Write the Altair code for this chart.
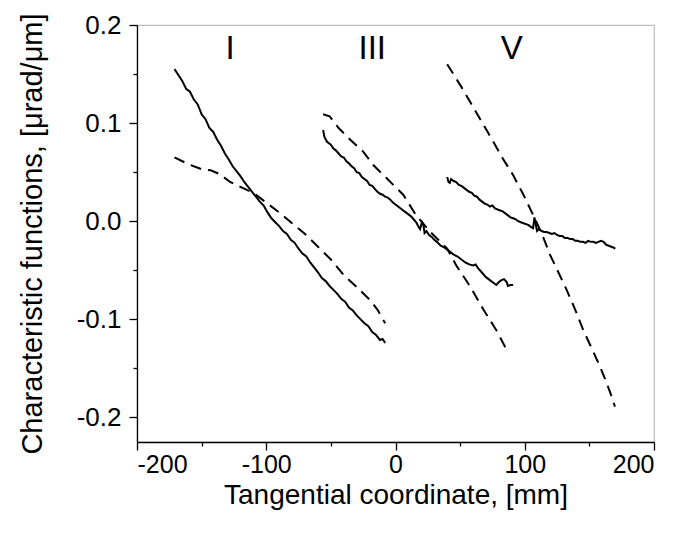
import altair as alt
import pandas as pd

# ---- data ----
I_solid_x = [-171, -168, -165, -162, -159, -156, -153, -150, -147, -144, -141, -138, -135, -132, -129,
             -126, -123, -120, -117, -114, -111, -108, -105, -102, -99, -96, -93, -90, -87, -84, -81,
             -78, -75, -72, -69, -66, -63, -60, -57, -54, -51, -48, -45, -42, -39, -36, -33, -30,
             -27, -24, -21, -18, -15, -12, -10, -8]
I_solid_y = [0.155, 0.149, 0.143, 0.135, 0.132, 0.124, 0.119, 0.109, 0.104, 0.095, 0.091, 0.083, 0.077,
             0.069, 0.063, 0.056, 0.051, 0.046, 0.040, 0.035, 0.030, 0.025, 0.020, 0.016, 0.009, 0.003,
             -0.001, -0.005, -0.010, -0.013, -0.019, -0.022, -0.028, -0.033, -0.036, -0.042, -0.047,
             -0.052, -0.058, -0.061, -0.066, -0.070, -0.074, -0.079, -0.082, -0.088, -0.091, -0.096,
             -0.100, -0.104, -0.107, -0.113, -0.116, -0.121, -0.120, -0.124]

I_dash_x = [-171, -160, -150, -143, -136, -128, -120, -110, -100, -90, -80, -70, -60, -50, -40, -30, -20, -14, -8]
I_dash_y = [0.065, 0.058, 0.053, 0.052, 0.048, 0.040, 0.035, 0.029, 0.019, 0.009, -0.002, -0.013,
            -0.026, -0.039, -0.055, -0.067, -0.080, -0.090, -0.104]

III_solid_x = [-56, -55, -53, -50, -48, -46, -44, -42, -40, -38, -36, -34, -32, -30, -28, -26, -24, -22,
               -20, -18, -16, -14, -12, -10, -8, -6, -4, -2, 0, 2, 4, 6, 8, 10, 12, 14, 16, 18, 19,
               20.5, 21.5, 22.5, 24, 26, 28, 30, 32, 35, 38, 40, 42, 45, 48, 51, 54, 57, 60, 62, 64,
               66, 68, 70, 73, 76, 78, 80, 82, 84, 86, 87, 89, 91]
III_solid_y = [0.093, 0.086, 0.081, 0.078, 0.074, 0.072, 0.069, 0.066, 0.065, 0.061, 0.059, 0.056, 0.054,
               0.050, 0.049, 0.045, 0.043, 0.041, 0.037, 0.036, 0.033, 0.030, 0.028, 0.027, 0.025, 0.024,
               0.022, 0.019, 0.017, 0.015, 0.013, 0.011, 0.009, 0.007, 0.005, 0.002, -0.001, -0.006,
               -0.008, -0.001, -0.003, -0.012, -0.010, -0.014, -0.016, -0.019, -0.021, -0.025, -0.027,
               -0.029, -0.031, -0.034, -0.036, -0.039, -0.042, -0.044, -0.045, -0.044, -0.048, -0.051,
               -0.054, -0.057, -0.060, -0.063, -0.065, -0.062, -0.060, -0.059, -0.062, -0.066, -0.065,
               -0.065]

III_dash_x = [-56, -51, -44, -35, -25, -17, -7, 6, 16, 27, 40, 47, 58, 68, 78, 86]
III_dash_y = [0.109, 0.107, 0.095, 0.083, 0.071, 0.057, 0.044, 0.027, 0.006, -0.011, -0.028, -0.045,
              -0.067, -0.090, -0.111, -0.131]

V_solid_x = [40, 41, 42, 43, 45, 47, 49, 51, 53, 55, 57, 59, 61, 63, 65, 67, 69, 71, 73, 75, 77, 79, 81,
             83, 85, 87, 89, 91, 93, 95, 97, 99, 101, 103, 105, 106.5, 107.5, 108.5, 109.5, 111, 113,
             115, 117, 119, 121, 123, 125, 127, 129, 131, 133, 135, 137, 139, 141, 143, 145, 147, 149,
             151, 153, 155, 157, 159, 161, 163, 165, 167, 169, 170]
V_solid_y = [0.045, 0.040, 0.039, 0.043, 0.041, 0.040, 0.037, 0.036, 0.034, 0.032, 0.030, 0.029, 0.026,
             0.025, 0.022, 0.020, 0.018, 0.017, 0.015, 0.016, 0.013, 0.012, 0.011, 0.010, 0.008, 0.006,
             0.004, 0.003, 0.002, 0.000, -0.001, -0.002, -0.003, -0.004, -0.006, -0.007, 0.004, -0.003,
             -0.010, -0.008, -0.010, -0.011, -0.011, -0.012, -0.013, -0.012, -0.014, -0.015, -0.015,
             -0.017, -0.017, -0.018, -0.018, -0.020, -0.020, -0.021, -0.021, -0.022, -0.020, -0.021,
             -0.021, -0.022, -0.021, -0.020, -0.021, -0.024, -0.025, -0.026, -0.027, -0.028]

V_dash_x = [40, 50, 57.6, 66, 75.7, 83, 91, 99, 106.6, 113, 119.5, 126, 132.4, 139, 145.3, 152, 158.2, 163.4, 166.5, 169.8]
V_dash_y = [0.160, 0.139, 0.122, 0.103, 0.081, 0.064, 0.047, 0.027, 0.006, -0.012, -0.034, -0.052,
            -0.070, -0.090, -0.111, -0.130, -0.148, -0.165, -0.176, -0.189]

label_text = ["I", "III", "V"]
label_x = [-128, -18, 90]
label_y = [0.176, 0.176, 0.176]

# ---- build tables ----
def table(series):
    rows = []
    for name, xs, ys in series:
        for i, (xv, yv) in enumerate(zip(xs, ys)):
            rows.append({"series": name, "idx": i, "x": xv, "y": yv})
    return pd.DataFrame(rows)

solid_df = table([("I", I_solid_x, I_solid_y), ("III", III_solid_x, III_solid_y), ("V", V_solid_x, V_solid_y)])
dash_df = table([("I", I_dash_x, I_dash_y), ("III", III_dash_x, III_dash_y), ("V", V_dash_x, V_dash_y)])
lab_df = pd.DataFrame({"t": label_text, "x": label_x, "y": label_y})

FONT = "Liberation Sans"

x_axis = alt.Axis(
    values=[-200, -150, -100, -50, 0, 50, 100, 150, 200],
    labelExpr="datum.value % 100 == 0 ? replace(format(datum.value, 'd'), '\u2212', '-') : ''",
    tickSize={"condition": {"test": "datum.value % 100 == 0", "value": 8}, "value": 4},
    title="Tangential coordinate, [mm]",
    grid=False, labelOverlap=False, labelPadding=2, titlePadding=4,
    labelFontSize=25, titleFontSize=28,
)
y_axis = alt.Axis(
    values=[-0.2, -0.15, -0.1, -0.05, 0.0, 0.05, 0.1, 0.15, 0.2],
    labelExpr="abs(round(datum.value*20)) % 2 == 0 ? replace(format(datum.value, '.1f'), '\u2212', '-') : ''",
    tickSize={"condition": {"test": "abs(round(datum.value*20)) % 2 == 0", "value": 8}, "value": 4},
    title="Characteristic functions, [\u03bcrad/\u03bcm]",
    grid=False, labelOverlap=False, labelPadding=8, titlePadding=29,
    labelFontSize=26, titleFontSize=29,
)

xs = alt.X("x:Q", scale=alt.Scale(domain=[-200, 200], nice=False, zero=False), axis=x_axis)
ys = alt.Y("y:Q", scale=alt.Scale(domain=[-0.225, 0.2], nice=False, zero=False), axis=y_axis)

solid = alt.Chart(solid_df).mark_line(color="black", strokeWidth=2).encode(
    x=xs, y=ys, detail="series:N", order="idx:Q")
dashed = alt.Chart(dash_df).mark_line(color="black", strokeWidth=2, strokeDash=[11, 7]).encode(
    x=xs, y=ys, detail="series:N", order="idx:Q")
labels = alt.Chart(lab_df).mark_text(font=FONT, fontSize=33, color="black", baseline="middle").encode(
    x="x:Q", y="y:Q", text="t:N")

chart = alt.layer(solid, dashed, labels).properties(
    width=517, height=417,
    autosize=alt.AutoSizeParams(type="none"),
    padding={"left": 129, "top": 17, "right": 10, "bottom": 75},
).configure_view(
    stroke="#bdbdbd", strokeWidth=1.2
).configure_axis(
    domainColor="black", domainWidth=1.3, tickColor="black", tickWidth=1.3,
    labelFont=FONT, labelColor="black",
    titleFont=FONT, titleColor="black", titleFontWeight="normal",
)

chart.save("out.html", embed_options={"renderer": "svg", "actions": False})
